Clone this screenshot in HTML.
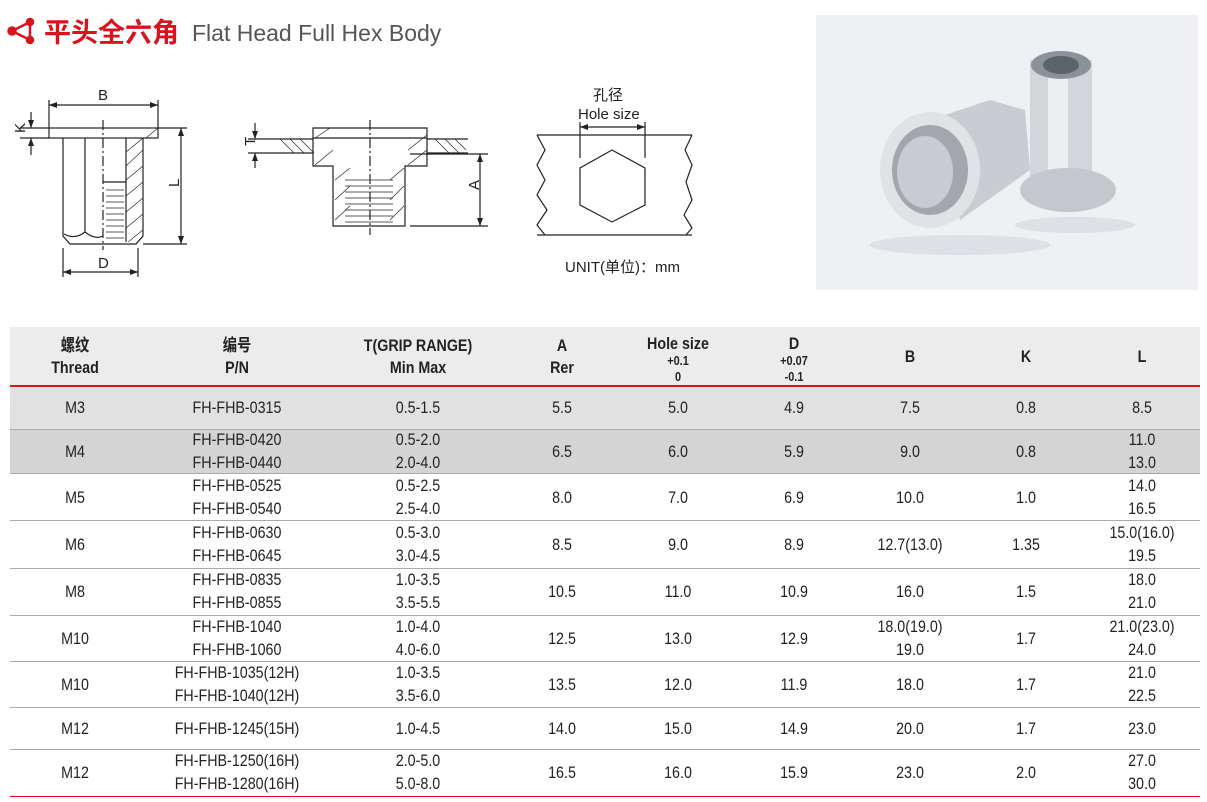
<!DOCTYPE html>
<html><head><meta charset="utf-8"><style>
body{margin:0;width:1207px;height:802px;background:#fff;position:relative;overflow:hidden;font-family:"Liberation Sans","Noto Sans CJK SC",sans-serif;}
.abs{position:absolute}
.row{position:absolute;left:10px;width:1190px;border-bottom:1px solid #aaa;}
.c{position:absolute;text-align:center;font-size:17px;color:#222;transform:translateX(-50%) scaleX(0.84);white-space:nowrap;line-height:23px}
.h{font-weight:bold;font-size:17px;line-height:22px}
</style></head><body>
<svg class="abs" style="left:0;top:0" width="1207" height="300">
<g fill="#d7141d" stroke="#d7141d" stroke-width="2.5"><line x1="12" y1="31" x2="30" y2="22"/><line x1="12" y1="31" x2="30" y2="40"/><line x1="30" y1="22" x2="30" y2="40"/><circle cx="12" cy="31" r="3.5"/><circle cx="30" cy="22" r="3"/><circle cx="30" cy="40" r="3"/></g>
<text x="44" y="42" font-size="27" font-weight="bold" fill="#d7141d" font-family="Noto Sans CJK SC,sans-serif">平头全六角</text>
<text x="192" y="41" font-size="23" fill="#555" font-family="Liberation Sans,sans-serif">Flat Head  Full Hex Body</text>
<g stroke="#222" stroke-width="1.2" fill="none">
<rect x="49" y="128" width="109" height="10"/>
<path d="M63 138 V236 L70 244 H136 L143 236 V138"/>
<line x1="85" y1="138" x2="85" y2="232"/>
<path d="M64 234 Q75 240 85 232 Q95 240 103 236"/>
<line x1="103" y1="120" x2="103" y2="250" stroke-dasharray="10,3,2,3"/>
<path d="M103 182 H126 V242"/><path d="M126 182 V138"/>
<g stroke-width="0.7"><path d="M106 190H124M106 196H124M106 202H124M106 208H124M106 214H124M106 220H124M106 226H124M106 232H124M106 238H124"/>
<path d="M126 152L143 138M126 166L143 150M126 180L143 166M126 196L143 182M126 212L143 198M126 228L143 214M128 242L143 230M146 138L158 128"/></g>
<path d="M49 100V128M158 100V128M49 105H158"/>
<path d="M20 128H49M20 138H49M31 112V128M31 138V155"/>
<path d="M158 128H187M143 244H187M181 128V244"/>
<path d="M63 248V277M138 248V277M63 272H138"/>
<path d="M313 128H427V138H313ZM313 138V166H333V226H405V166H427V138"/>
<path d="M270 139H313M427 139H468M270 153H313M427 153H468"/>
<g stroke-width="0.7"><path d="M280 139L294 153M290 139L304 153M300 139L314 153M435 139L449 153M445 139L459 153M455 139L466 150M315 138L330 128M315 165L333 150M408 150L427 135M408 165L427 150M335 180L350 168M335 200L350 186M335 220L350 206M390 180L404 168M390 200L404 186M390 220L404 206"/>
<path d="M345 180H393M345 186H393M345 192H393M345 198H393M345 204H393M345 210H393M345 216H393M345 222H393"/></g>
<line x1="370" y1="120" x2="370" y2="235" stroke-dasharray="10,3,2,3"/>
<path d="M255 123V139M255 153V168M248 139H270M248 153H270"/>
<path d="M410 154H488M410 226H488M480 154V226"/>
<path d="M537 135H692M537 235H692"/>
<path d="M537 135L545 150L537 165L545 180L537 195L547 210L537 225L545 235M692 135L685 150L692 165L686 182L692 200L684 215L692 228L686 235"/>
<path d="M612 150L645 168V205L612 222L580 205V168Z"/>
<path d="M580 122V158M645 122V158M580 127H645"/>
</g>
<g fill="#222"><path d="M49 105l8-3v6zM158 105l-8-3v6zM31 128l-3-8h6zM31 138l-3 8h6zM181 128l-3 8h6zM181 244l-3-8h6zM63 272l8-3v6zM138 272l-8-3v6zM255 139l-3-8h6zM255 153l-3 8h6zM480 154l-3 8h6zM480 226l-3-8h6zM580 127l8-3v6zM645 127l-8-3v6z"/></g>
<g font-size="15" fill="#222" font-family="Liberation Sans,sans-serif">
<text x="98" y="100">B</text><text x="98" y="268">D</text>
<text x="20" y="138" transform="rotate(-90 20 133)" >K</text>
<text x="174" y="192" transform="rotate(-90 174 187)">L</text>
<text x="250" y="151" transform="rotate(-90 250 146)">T</text>
<text x="474" y="195" transform="rotate(-90 474 190)">A</text>
<text x="593" y="100" font-family="Noto Sans CJK SC,sans-serif">孔径</text>
<text x="578" y="119">Hole size</text>
<text x="565" y="272" font-family="Liberation Sans,Noto Sans CJK SC,sans-serif">UNIT(单位)：mm</text>
</g>
<rect x="816" y="15" width="382" height="275" fill="#eef0f3"/>
<ellipse cx="960" cy="245" rx="90" ry="10" fill="#dde0e4"/>
<ellipse cx="1075" cy="225" rx="60" ry="8" fill="#dde0e4"/>
<rect x="1030" y="60" width="62" height="140" fill="#d2d5da"/>
<rect x="1048" y="60" width="20" height="140" fill="#eceef1"/>
<ellipse cx="1068" cy="190" rx="48" ry="22" fill="#c4c8cd"/>
<ellipse cx="1061" cy="65" rx="30" ry="14" fill="#8d9198"/>
<ellipse cx="1061" cy="65" rx="18" ry="9" fill="#5e636a"/>
<path d="M930 120L990 100L1025 110L1030 170L960 220Z" fill="#c9ccd1"/>
<ellipse cx="930" cy="170" rx="50" ry="58" fill="#e0e2e6"/>
<ellipse cx="930" cy="170" rx="38" ry="45" fill="#a3a7ad"/>
<ellipse cx="925" cy="172" rx="28" ry="36" fill="#c8cbd0"/>
</svg>

<div class="row" style="top:327px;height:58px;background:#ececec;border-bottom:2px solid #d7141d"></div>
<div class="row" style="top:387px;height:42px;background:#e1e1e1"></div>
<div class="row" style="top:430px;height:43px;background:#d4d4d4"></div>
<div class="row" style="top:474px;height:46px"></div>
<div class="row" style="top:521px;height:47px"></div>
<div class="row" style="top:569px;height:46px"></div>
<div class="row" style="top:616px;height:45px"></div>
<div class="row" style="top:662px;height:45px"></div>
<div class="row" style="top:708px;height:41px"></div>
<div class="row" style="top:750px;height:46px;border-bottom:1px solid #d7141d"></div>

<div class="c h" style="left:75px;top:335px">螺纹<br>Thread</div>
<div class="c h" style="left:237px;top:335px">编号<br>P/N</div>
<div class="c h" style="left:418px;top:335px">T(GRIP RANGE)<br>Min Max</div>
<div class="c h" style="left:562px;top:335px">A<br>Rer</div>
<div class="c h" style="left:678px;top:336px;line-height:16px">Hole size<br><span style="font-size:13px;line-height:14px">+0.1<br>0</span></div>
<div class="c h" style="left:794px;top:336px;line-height:16px">D<br><span style="font-size:13px;line-height:14px">+0.07<br>-0.1</span></div>
<div class="c h" style="left:910px;top:346px">B</div>
<div class="c h" style="left:1026px;top:346px">K</div>
<div class="c h" style="left:1142px;top:346px">L</div>

<div id="t"></div>
<script>
var rows=[
[396,["M3"],["FH-FHB-0315"],["0.5-1.5"],"5.5","5.0","4.9",["7.5"],"0.8",["8.5"]],
[440,["M4"],["FH-FHB-0420","FH-FHB-0440"],["0.5-2.0","2.0-4.0"],"6.5","6.0","5.9",["9.0"],"0.8",["11.0","13.0"]],
[486,["M5"],["FH-FHB-0525","FH-FHB-0540"],["0.5-2.5","2.5-4.0"],"8.0","7.0","6.9",["10.0"],"1.0",["14.0","16.5"]],
[533,["M6"],["FH-FHB-0630","FH-FHB-0645"],["0.5-3.0","3.0-4.5"],"8.5","9.0","8.9",["12.7(13.0)"],"1.35",["15.0(16.0)","19.5"]],
[580,["M8"],["FH-FHB-0835","FH-FHB-0855"],["1.0-3.5","3.5-5.5"],"10.5","11.0","10.9",["16.0"],"1.5",["18.0","21.0"]],
[627,["M10"],["FH-FHB-1040","FH-FHB-1060"],["1.0-4.0","4.0-6.0"],"12.5","13.0","12.9",["18.0(19.0)","19.0"],"1.7",["21.0(23.0)","24.0"]],
[673,["M10"],["FH-FHB-1035(12H)","FH-FHB-1040(12H)"],["1.0-3.5","3.5-6.0"],"13.5","12.0","11.9",["18.0"],"1.7",["21.0","22.5"]],
[717,["M12"],["FH-FHB-1245(15H)"],["1.0-4.5"],"14.0","15.0","14.9",["20.0"],"1.7",["23.0"]],
[761,["M12"],["FH-FHB-1250(16H)","FH-FHB-1280(16H)"],["2.0-5.0","5.0-8.0"],"16.5","16.0","15.9",["23.0"],"2.0",["27.0","30.0"]]];
var xs=[75,237,418,562,678,794,910,1026,1142],h="";
rows.forEach(function(r){var y=r[0];
for(var i=1;i<10;i++){var v=r[i];if(typeof v=="string")v=[v];
var top=(v.length==2)?y-12:y;
h+='<div class="c" style="left:'+xs[i-1]+'px;top:'+top+'px">'+v.join('<br>')+'</div>';}});
document.getElementById('t').innerHTML=h;
</script>
</body></html>
